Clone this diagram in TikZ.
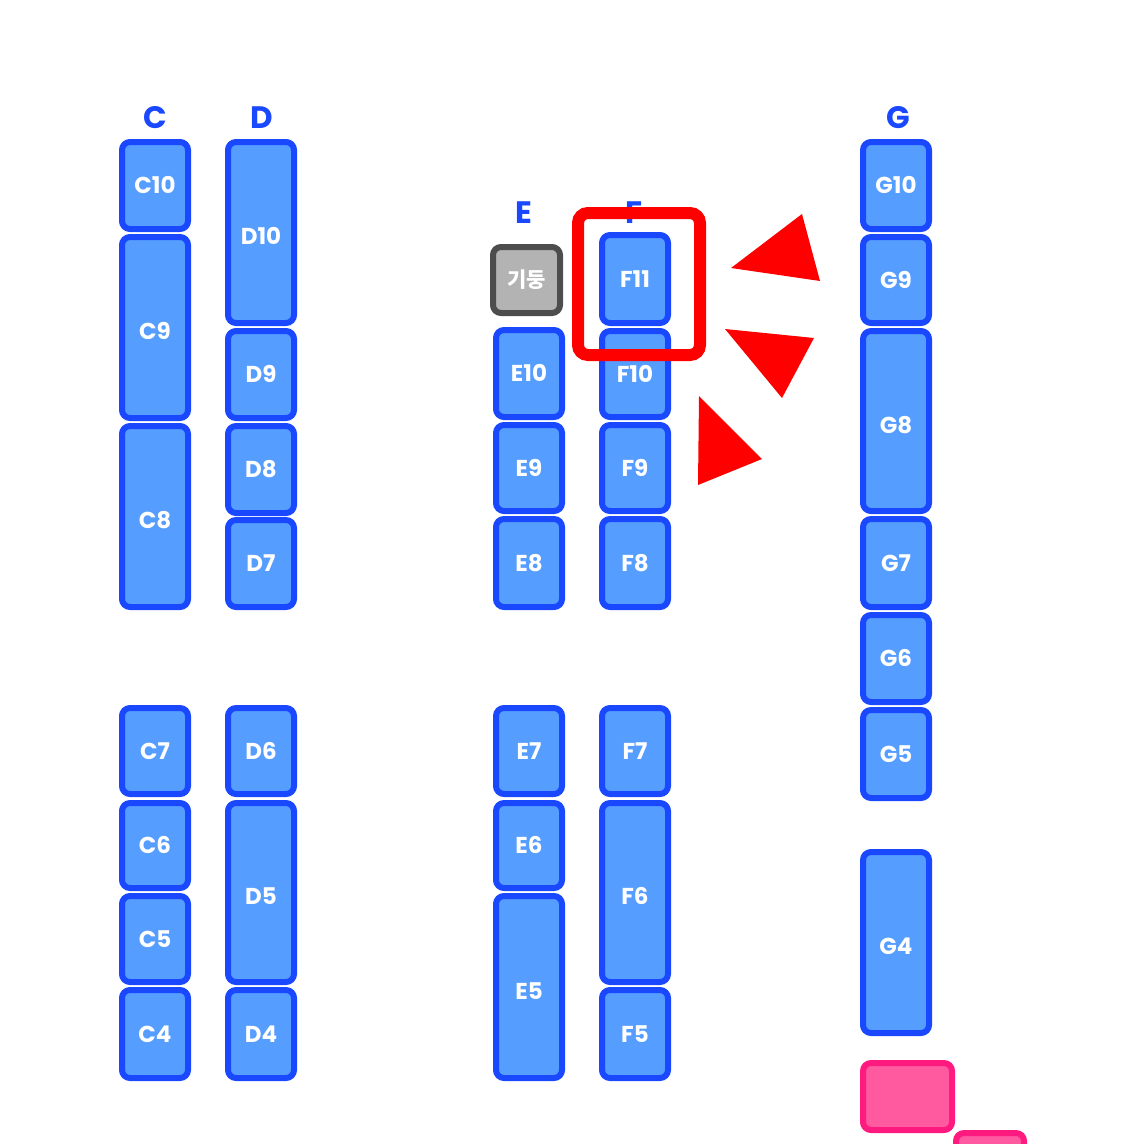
\documentclass[tikz,border=0pt]{standalone}
\usepackage{fontspec}
\setmainfont{Poppins}
\newfontfamily\krfont{Noto Sans CJK KR}
\usetikzlibrary{positioning}

\begin{document}
\begin{tikzpicture}[
    x=1pt,
    y=-1pt,
    cell/.style={draw=cellline, fill=cellfill, line width=6pt, rounded corners=8pt,
        minimum width=66pt, inner sep=0pt, text=white, text height=16pt, text depth=0pt,
        font=\fontsize{23}{26}\selectfont\bfseries},
    colhead/.style={text=cellline, inner sep=0pt, font=\fontsize{31}{34}\selectfont\bfseries},
    pillar/.style={draw=pillarline, fill=pillarfill, line width=6pt, rounded corners=8pt,
        minimum width=67pt, minimum height=66pt, inner sep=0pt, text=white,
        font=\krfont\fontsize{21}{24}\selectfont\bfseries},
    stage/.style={draw=stageline, fill=stagefill, line width=6pt, rounded corners=8pt, inner sep=0pt},
    focusbox/.style={draw=markred, line width=12pt, rounded corners=10pt, inner sep=0pt},
    pointer/.style={fill=markred}
]

\definecolor{cellfill}{RGB}{85,157,255}
\definecolor{cellline}{RGB}{26,72,255}
\definecolor{pillarfill}{RGB}{179,179,179}
\definecolor{pillarline}{RGB}{77,77,77}
\definecolor{stagefill}{RGB}{255,90,160}
\definecolor{stageline}{RGB}{255,26,128}
\definecolor{markred}{RGB}{255,0,0}

\clip (0,0) rectangle (1129,1144);

% Column headers.
\node[colhead] (hC) at (155,118) {C};
\node[colhead] (hD) at (262,118) {D};
\node[colhead] (hE) at (524,213) {E};
\node[colhead] (hF) at (634,213) {F};
\node[colhead] (hG) at (898,118) {G};

% Seats: name / column centre / outer top / outer bottom.
\foreach \nm/\cx/\tp/\bt in {
    C10/155/139/232, C9/155/234/421, C8/155/423/610,
    C7/155/705/797, C6/155/800/891, C5/155/893/985, C4/155/987/1081,
    D10/261/139/326, D9/261/328/421, D8/261/423/516, D7/261/517/610,
    D6/261/705/797, D5/261/800/985, D4/261/987/1081,
    E10/529/327/420, E9/529/422/514, E8/529/516/610,
    E7/529/705/797, E6/529/800/891, E5/529/893/1081,
    F11/635/232/326, F10/635/328/420, F9/635/422/514, F8/635/516/610,
    F7/635/705/797, F6/635/800/985, F5/635/987/1081,
    G10/896/139/232, G9/896/234/326, G8/896/328/514, G7/896/516/610,
    G6/896/612/705, G5/896/707/801, G4/896/849/1036
} {
    % labels of the tall seats sit a little low
    \pgfmathsetmacro\dy{ifthenelse(\bt-\tp>100,4,0)}
    \node[cell, minimum height={\bt-\tp-6}] (\nm) at (\cx,{(\tp+\bt)/2})
        {\raisebox{-\dy pt}{\nm}};
}

% Pillar next to column E.
\node[pillar] (pillar) at (526.5,280) {기둥};

% Stage blocks, bottom right.
\node[stage, minimum width=89pt, minimum height=67pt] (stage1) at (907.5,1096.5) {};
\node[stage, minimum width=68pt, minimum height=67pt] (stage2) at (990,1166.5) {};

% Highlight round F11.
\node[focusbox, minimum width=122pt, minimum height=142pt] (focus) at (639,284) {};

% Pointers towards the highlight.
\fill[pointer] (731,268) -- (802,214) -- (820,281) -- cycle;
\fill[pointer] (725,329) -- (814,338) -- (782,398) -- cycle;
\fill[pointer] (699,396) -- (762,459) -- (698,485) -- cycle;

\end{tikzpicture}
\end{document}
